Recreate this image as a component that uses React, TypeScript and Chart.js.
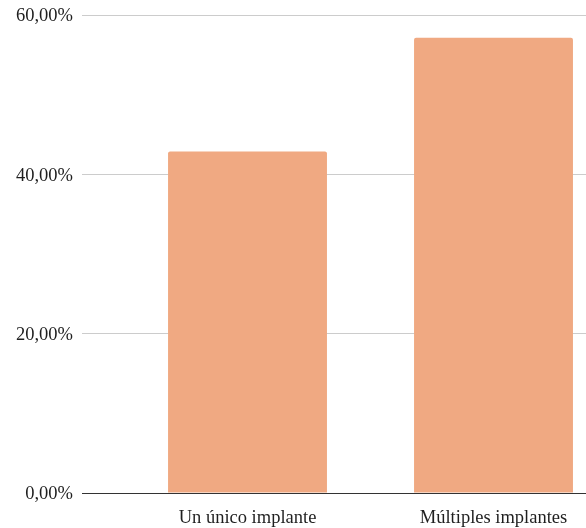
import React, { useEffect, useRef } from "react";
import { Chart, registerables } from "chart.js";

Chart.register(...registerables);

// Share of cases by number of implants
const categories = ["Un único implante", "Múltiples implantes"];
const shares = [42.86, 57.14];
const yTicks = [0, 20, 40, 60];

const FONT = "'Liberation Serif', 'Times New Roman', serif";
const BAR_COLOR = "#F0A982";

export default function App() {
  const canvasRef = useRef<HTMLCanvasElement | null>(null);

  useEffect(() => {
    const canvas = canvasRef.current;
    if (!canvas) return;

    const chart = new Chart(canvas, {
      type: "bar",
      data: {
        datasets: [
          {
            data: shares.map((v, i) => ({ x: i, y: v })),
            backgroundColor: BAR_COLOR,
            borderRadius: 2,
            borderSkipped: "bottom",
            barPercentage: 0.646,
            categoryPercentage: 1,
          },
        ],
      },
      options: {
        responsive: false,
        animation: false,
        devicePixelRatio: 1,
        layout: { padding: { top: 15, right: 0, bottom: 0, left: 0 } },
        plugins: {
          legend: { display: false },
          tooltip: { enabled: false },
        },
        scales: {
          x: {
            type: "linear",
            offset: false,
            min: -0.6728,
            max: 1.376,
            afterBuildTicks: (scale: any) => {
              scale.ticks = categories.map((_, i) => ({ value: i }));
            },
            afterFit: (scale: any) => {
              scale.height = 35;
            },
            grid: { display: false, drawTicks: false },
            border: { display: true, color: "#333333", width: 1 },
            ticks: {
              autoSkip: false,
              maxRotation: 0,
              padding: 14,
              color: "#1f1f1f",
              font: { family: FONT, size: 18.5 },
              callback: (value: any) => categories[value as number] ?? "",
            },
          },
          y: {
            min: 0,
            max: 60,
            afterBuildTicks: (scale: any) => {
              scale.ticks = yTicks.map((v) => ({ value: v }));
            },
            afterFit: (scale: any) => {
              scale.width = 82;
              scale.paddingTop = 0;
              scale.paddingBottom = 0;
            },
            grid: {
              drawTicks: false,
              color: (ctx: any) => (ctx.tick && ctx.tick.value === 0 ? "#333333" : "#cccccc"),
              lineWidth: 1,
            },
            border: { display: false },
            ticks: {
              padding: 9,
              labelOffset: 1.5,
              color: "#1f1f1f",
              font: { family: FONT, size: 18.5 },
              callback: (value: any) => Number(value).toFixed(2).replace(".", ",") + "%",
            },
          },
        },
      },
    });

    return () => chart.destroy();
  }, []);

  return (
    <div
      style={{
        position: "absolute",
        left: 0,
        top: 0,
        width: 586,
        height: 528,
        overflow: "hidden",
        background: "#ffffff",
      }}
    >
      <canvas ref={canvasRef} width={586} height={528} />
    </div>
  );
}
